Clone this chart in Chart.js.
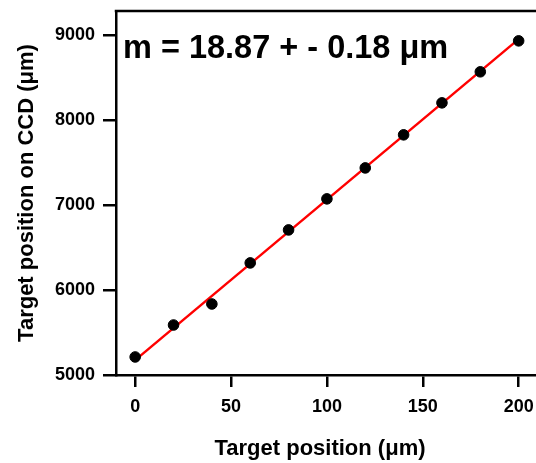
<!DOCTYPE html>
<html>
<head>
<meta charset="utf-8">
<script src="https://cdn.jsdelivr.net/npm/chart.js@4"></script>
<style>
  html, body { margin: 0; padding: 0; background: #fff; overflow: hidden; }
  #wrap { width: 570px; height: 463px; }
</style>
</head>
<body>
<div id="wrap"><canvas id="ccd-chart" width="570" height="463"></canvas></div>
<script>
// ---- calibration data: target stage position vs. spot position on CCD ----
const TARGET_POS = [0, 20, 40, 60, 80, 100, 120, 140, 160, 180, 200];
const CCD_POS    = [5212, 5588, 5835, 6318, 6706, 7071, 7435, 7824, 8200, 8565, 8929];

// linear fit end points
const FIT_X = [0, 200];
const FIT_Y = [5175, 8949];

const X_TICKS = [0, 50, 100, 150, 200];
const Y_TICKS = [5000, 6000, 7000, 8000, 9000];

const FIT_LABEL = 'm = 18.87 + - 0.18 \u03BCm';
const X_TITLE   = 'Target position (\u03BCm)';
const Y_TITLE   = 'Target position on CCD (\u03BCm)';

const FONT = "'Liberation Sans', Arial, sans-serif";
const AXIS_W = 2.5;

// top frame line + fit label + x title
const extras = {
  id: 'extras',
  afterDraw(chart) {
    const { ctx, chartArea: a } = chart;
    ctx.save();
    ctx.strokeStyle = '#000';
    ctx.lineWidth = AXIS_W;
    ctx.beginPath();
    ctx.moveTo(a.left - AXIS_W / 2, a.top);
    ctx.lineTo(a.right, a.top);
    ctx.stroke();

    ctx.fillStyle = '#000';
    ctx.font = 'bold 32.5px ' + FONT;
    ctx.textAlign = 'left';
    ctx.textBaseline = 'alphabetic';
    ctx.fillText(FIT_LABEL, a.left + 7, a.top + 47);

    ctx.font = 'bold 22px ' + FONT;
    ctx.textAlign = 'center';
    ctx.fillText(X_TITLE, a.left + 204, 455);
    ctx.restore();
  }
};

new Chart(document.getElementById('ccd-chart'), {
  type: 'scatter',
  data: {
    datasets: [
      {
        label: 'data',
        data: TARGET_POS.map((x, i) => ({ x, y: CCD_POS[i] })),
        backgroundColor: '#000',
        borderColor: '#000',
        pointRadius: 5.3,
        showLine: false
      },
      {
        label: 'fit',
        data: FIT_X.map((x, i) => ({ x, y: FIT_Y[i] })),
        borderColor: '#ff0000',
        borderWidth: 2.5,
        pointRadius: 0,
        showLine: true
      }
    ]
  },
  options: {
    responsive: false,
    animation: false,
    layout: { padding: { top: 11, left: 0, right: 13, bottom: 0 } },
    plugins: { legend: { display: false }, tooltip: { enabled: false } },
    scales: {
      x: {
        type: 'linear',
        min: -10, max: 220,
        afterBuildTicks: s => { s.ticks = X_TICKS.map(v => ({ value: v })); },
        afterFit: s => { s.height = 88; s.paddingLeft = 0; s.paddingRight = 0; },
        border: { color: '#000', width: AXIS_W },
        grid: { drawOnChartArea: false, color: '#000', lineWidth: AXIS_W, tickLength: 12 },
        ticks: { color: '#000', padding: 9, maxRotation: 0, callback: v => String(v),
                 font: { family: FONT, size: 18, weight: 'bold' } }
      },
      y: {
        type: 'linear',
        min: 5000, max: 9280,
        afterBuildTicks: s => { s.ticks = Y_TICKS.map(v => ({ value: v })); },
        afterFit: s => { s.width = 116; s.paddingTop = 0; s.paddingBottom = 0; },
        border: { color: '#000', width: AXIS_W },
        grid: { drawOnChartArea: false, color: '#000', lineWidth: AXIS_W, tickLength: 13 },
        ticks: { color: '#000', padding: 8, callback: v => String(v),
                 font: { family: FONT, size: 18, weight: 'bold' } },
        title: { display: true, text: Y_TITLE, color: '#000', padding: { top: 14, bottom: 0 },
                 font: { family: FONT, size: 22, weight: 'bold' } }
      }
    }
  },
  plugins: [extras]
});
</script>
</body>
</html>
